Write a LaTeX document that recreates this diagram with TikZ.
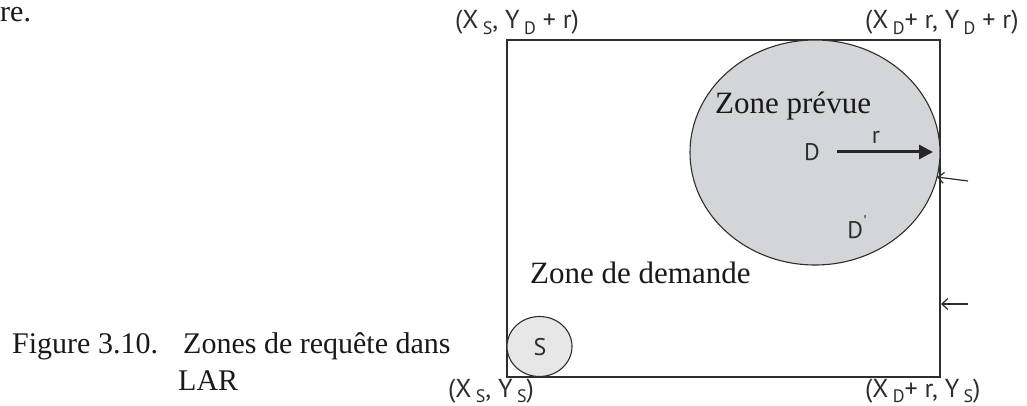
\documentclass[tikz,border=0pt]{standalone}
\usepackage{fontspec}
\setmainfont{Liberation Serif}
\newfontfamily\lblfont{PT Sans}
\usetikzlibrary{shapes.geometric,arrows.meta}
\definecolor{zonefill}{RGB}{212,213,216}
\definecolor{srcfill}{RGB}{230,230,231}
\definecolor{lineclr}{RGB}{45,45,45}
\definecolor{txt}{RGB}{25,25,25}
\newcommand\lsub[1]{\,\raisebox{-0.4ex}{\fontsize{18}{18}\selectfont #1}}
\begin{document}
\begin{tikzpicture}[x=1pt,y=-1pt,
  serif/.style={font=\fontsize{31}{31}\selectfont, text=txt, inner sep=0, anchor=base west},
  capt/.style={font=\fontsize{30}{30}\selectfont, text=txt, inner sep=0, anchor=base west},
  lbl/.style={font=\lblfont\fontsize{26}{26}\selectfont, text=lineclr, inner sep=0, anchor=base west},
  ptlabel/.style={font=\lblfont\fontsize{24}{24}\selectfont, text=lineclr, inner sep=0, anchor=center},
  zonebox/.style={draw=lineclr, line width=1.4pt, inner sep=0},
  ptr/.style={draw=lineclr, line width=1.2pt, -{Straight Barb[length=6pt,width=11pt]}},
  radius arrow/.style={draw=black!85, line width=3pt, -{Triangle[length=14pt,width=14pt]}}]
\useasboundingbox (0,0) rectangle (1027,406);
% surrounding text
\node[capt] (frag) at (0,22) {re.};
\node[capt] (cap1) at (12,353) {Figure 3.10.};
\node[capt] (cap2) at (183,353) {Zones de requête dans};
\node[capt] (cap3) at (178,390) {LAR};
% request zone
\node[zonebox, minimum width=433pt, minimum height=337pt] (zone) at (723.5,208.5) {};
\node[ellipse, draw=lineclr, line width=1.1pt, fill=zonefill, minimum width=250pt, minimum height=225pt, inner sep=0] (forecast) at (815,152.5) {};
\node[ellipse, draw=lineclr, line width=1.1pt, fill=srcfill, minimum width=65pt, minimum height=60pt, inner sep=0] (src) at (539.5,346.5) {};
\node[serif] (lprev) at (715,114) {Zone prévue};
\node[serif] (ldem) at (530,283) {Zone de demande};
\node[ptlabel] (D) at (812,152) {D};
\node[ptlabel] (Dp) at (857,227) {D\raisebox{0.9ex}{\fontsize{17}{17}\selectfont '}};
\node[ptlabel] (S) at (540,347) {S};
\node[ptlabel] (r) at (876,137) {r};
\coordinate (rs) at (837,152);
\coordinate (re) at (933,152);
\draw[radius arrow] (rs) -- (re);
% corner labels
\node[lbl] (c1) at (455,29) {(X\lsub{S}, Y\lsub{D} + r)};
\node[lbl] (c2) at (865,29) {(X\lsub{D}+ r, Y\lsub{D} + r)};
\node[lbl] (c3) at (448,397) {(X\lsub{S}, Y\lsub{S})};
\node[lbl] (c4) at (865,397) {(X\lsub{D}+ r, Y\lsub{S})};
% side arrows
\coordinate (p1t) at (968,181);
\coordinate (p1h) at (937,177);
\coordinate (p2t) at (968,304);
\coordinate (p2h) at (941,304);
\draw[ptr] (p1t) -- (p1h);
\draw[ptr] (p2t) -- (p2h);
\end{tikzpicture}
\end{document}
